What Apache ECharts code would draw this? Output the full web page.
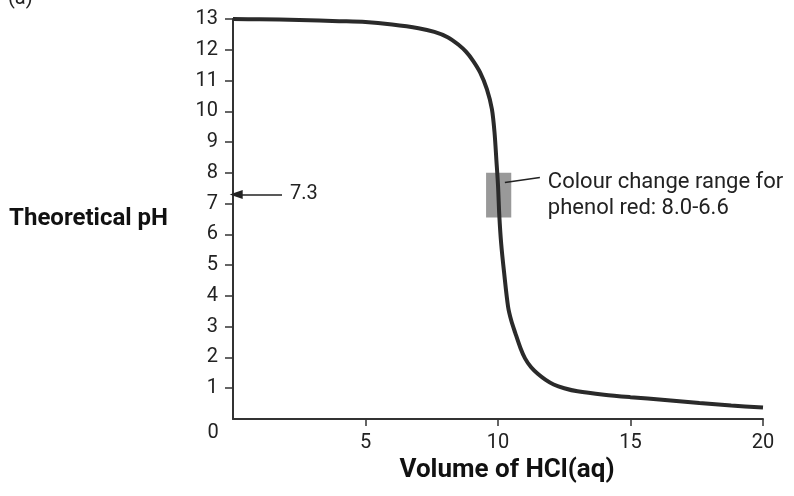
<!DOCTYPE html>
<html>
<head>
<meta charset="utf-8">
<script src="https://cdn.jsdelivr.net/npm/echarts@6/dist/echarts.min.js"></script>
<style>
  html, body { margin: 0; padding: 0; background: #fff; }
  #main { width: 794px; height: 496px; }
</style>
</head>
<body>
<div id="main"></div>
<script>
// titration curve: volume of HCl vs theoretical pH
var volume = [0, 1, 2.5, 4, 5, 6, 7, 7.6, 8.1, 8.5, 8.8, 9.06, 9.32, 9.58, 9.77, 9.87, 9.94, 10.0, 10.05, 10.12, 10.23, 10.38, 10.5, 10.65, 10.85, 11.02, 11.25, 11.5, 11.8, 12.1, 12.5, 13.0, 14.0, 15.0, 16.3, 17.6, 18.8, 20];
var phValue = [13.0, 12.99, 12.97, 12.93, 12.9, 12.82, 12.7, 12.58, 12.41, 12.17, 11.93, 11.64, 11.27, 10.72, 10.07, 9.3, 8.4, 7.6, 6.6, 5.7, 4.76, 3.65, 3.2, 2.8, 2.3, 1.97, 1.68, 1.47, 1.27, 1.12, 1.0, 0.9, 0.79, 0.71, 0.62, 0.52, 0.44, 0.37];

var xTicks = [5, 10, 15, 20];
var yTicks = [1, 2, 3, 4, 5, 6, 7, 8, 9, 10, 11, 12, 13];

// phenol red range box and annotations
var rangeBox = [9.55, 10.5, 6.55, 8.0];      // x from, x to, pH from, pH to
var arrowLine = [[1.85, 7.3], [0.12, 7.3]];
var leaderLine = [[10.26, 7.69], [11.58, 7.85]];
var arrowText = '7.3';
var rangeText = ['Colour change range for', 'phenol red: 8.0-6.6'];

var seriesData = [];
for (var i = 0; i < volume.length; i++) {
    seriesData.push([volume[i], phValue[i]]);
}

var myChart = echarts.init(document.getElementById('main'));
var fontName = 'Roboto';

var option = {
    backgroundColor: '#fff',
    animation: false,
    grid: {
        left: 233,
        right: 31,
        top: 19,
        bottom: 77,
        containLabel: false,
        outerBoundsMode: 'none'
    },
    xAxis: {
        type: 'value',
        min: 0,
        max: 20,
        interval: 5,
        name: 'Volume of HCl(aq)',
        nameLocation: 'middle',
        nameGap: 36,
        nameTextStyle: {
            fontFamily: fontName,
            fontWeight: 'bold',
            fontSize: 26,
            color: '#111',
            padding: [0, 0, 0, 18]
        },
        splitLine: { show: false },
        axisLine: { lineStyle: { color: '#333', width: 2 } },
        axisTick: {
            show: true,
            length: 7,
            customValues: xTicks,
            lineStyle: { color: '#333', width: 1.5 }
        },
        axisLabel: {
            customValues: xTicks,
            margin: 14,
            fontFamily: fontName,
            fontSize: 20,
            color: '#222'
        }
    },
    yAxis: {
        type: 'value',
        min: 0,
        max: 13,
        interval: 1,
        name: 'Theoretical pH',
        nameLocation: 'middle',
        nameRotate: 0,
        nameGap: 65,
        nameTextStyle: {
            fontFamily: fontName,
            fontWeight: 'bold',
            fontSize: 24,
            color: '#111'
        },
        splitLine: { show: false },
        axisLine: { show: true, lineStyle: { color: '#333', width: 2 } },
        axisTick: {
            show: true,
            length: 8,
            customValues: yTicks,
            lineStyle: { color: '#333', width: 1.5 }
        },
        axisLabel: {
            customValues: yTicks,
            margin: 15,
            fontFamily: fontName,
            fontSize: 20,
            color: '#222'
        }
    },
    series: [{
        name: 'pH',
        type: 'line',
        data: seriesData,
        smooth: 0.3,
        showSymbol: false,
        symbol: 'none',
        z: 5,
        lineStyle: { color: '#2a2a2a', width: 4 },
        markArea: {
            silent: true,
            z: 1,
            itemStyle: { color: '#999', opacity: 1 },
            data: [[
                { coord: [rangeBox[0], rangeBox[3]] },
                { coord: [rangeBox[1], rangeBox[2]] }
            ]]
        },
        markLine: {
            silent: true,
            animation: false,
            label: { show: false },
            data: [
                [
                    { coord: arrowLine[0], symbol: 'none' },
                    { coord: arrowLine[1], symbol: 'triangle', symbolSize: [9, 13] }
                ],
                [
                    { coord: leaderLine[0], symbol: 'none' },
                    { coord: leaderLine[1], symbol: 'none' }
                ]
            ],
            lineStyle: { color: '#222', width: 1.5, type: 'solid' }
        }
    }]
};
myChart.setOption(option);

// texts that sit next to data positions
var p0 = myChart.convertToPixel('grid', [0, 0]);
var pArrow = myChart.convertToPixel('grid', arrowLine[0]);
var pLead = myChart.convertToPixel('grid', leaderLine[1]);

myChart.setOption({
    graphic: [
        {
            type: 'text',
            left: 8, top: -11,
            style: { text: '(a)', font: '20px ' + fontName, fill: '#222' }
        },
        {
            type: 'text',
            x: p0[0] - 20, y: p0[1] + 14,
            style: { text: '0', font: '20px ' + fontName, fill: '#222', textAlign: 'center', textVerticalAlign: 'middle' }
        },
        {
            type: 'text',
            x: pArrow[0] + 8, y: pArrow[1],
            style: { text: arrowText, font: '20px ' + fontName, fill: '#222', textAlign: 'left', textVerticalAlign: 'middle' }
        },
        {
            type: 'text',
            x: pLead[0] + 8, y: pLead[1] - 8,
            style: { text: rangeText.join('\n'), font: '22px ' + fontName, lineHeight: 26, fill: '#222', textAlign: 'left', textVerticalAlign: 'top' }
        }
    ]
});
</script>
</body>
</html>
